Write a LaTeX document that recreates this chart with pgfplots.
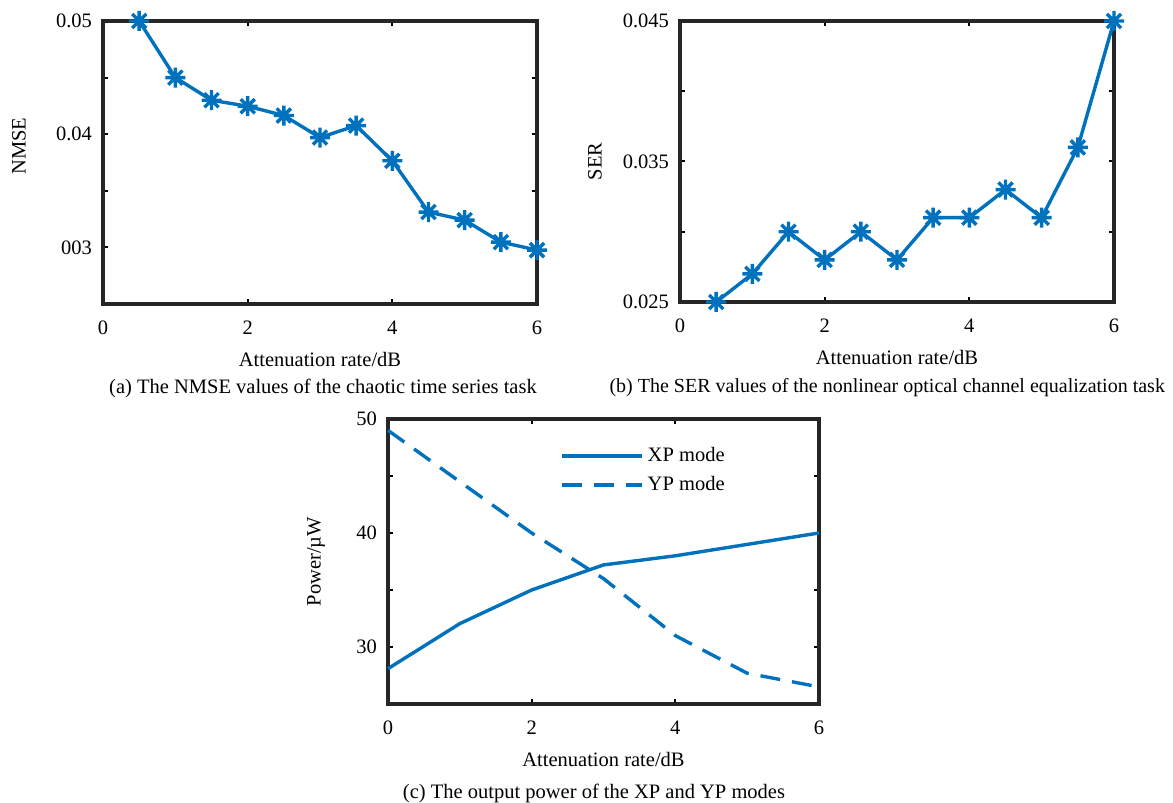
\documentclass[border=0pt]{standalone}
\usepackage{fontspec}
\setmainfont{Liberation Serif}
\usepackage{pgfplots}
\pgfplotsset{compat=1.18}
\definecolor{mblue}{RGB}{0,114,189}

% MATLAB-style 8-arm asterisk
\pgfdeclareplotmark{mstar}{%
  \pgfpathmoveto{\pgfqpoint{-\pgfplotmarksize}{0pt}}\pgfpathlineto{\pgfqpoint{\pgfplotmarksize}{0pt}}%
  \pgfpathmoveto{\pgfqpoint{0pt}{-\pgfplotmarksize}}\pgfpathlineto{\pgfqpoint{0pt}{\pgfplotmarksize}}%
  \pgfpathmoveto{\pgfqpoint{-.707\pgfplotmarksize}{-.707\pgfplotmarksize}}\pgfpathlineto{\pgfqpoint{.707\pgfplotmarksize}{.707\pgfplotmarksize}}%
  \pgfpathmoveto{\pgfqpoint{-.707\pgfplotmarksize}{.707\pgfplotmarksize}}\pgfpathlineto{\pgfqpoint{.707\pgfplotmarksize}{-.707\pgfplotmarksize}}%
  \pgfusepathqstroke}

\newcommand{\fs}{\fontsize{10.25}{12}\selectfont}

\pgfplotsset{panel/.style={
  scale only axis, anchor=south west, clip=false,
  axis line style={line width=1.8pt, black!85},
  tick style={black, line width=1pt}, major tick length=2.5pt, tick align=inside,
  xmin=0, xmax=6, xtick={0,2,4,6}, xticklabels={0,2,4,6},
  scaled y ticks=false,
  font=\fs,
  xticklabel style={yshift=-5pt},
  yticklabel style={xshift=-2pt},
  xlabel={Attenuation rate/dB},
  every axis x label/.style={at={(axis description cs:0.5,0)}, anchor=center, yshift=-27.5pt, font=\fs},
}}

\begin{document}
\begin{tikzpicture}
\useasboundingbox (0,0) rectangle (586.5pt,401.5pt);

% (a) NMSE
\begin{axis}[panel, at={(51.5pt,249.5pt)}, width=217pt, height=141.5pt,
  ymin=0.025, ymax=0.05, ytick={0.025,0.03,0.035,0.04,0.045,0.05}, yticklabels={,003,,0.04,,0.05},
  ylabel={NMSE}, every axis y label/.style={at={(axis description cs:-0.1935,0.558)}, rotate=90, anchor=center, font=\fs}]
\addplot[mblue, line width=1.7pt, mark=mstar, mark size=5pt, mark options={solid}] coordinates {
(0.5,0.0500) (1.0,0.0450) (1.5,0.0430) (2.0,0.04247) (2.5,0.04165) (3.0,0.0397)
(3.5,0.04076) (4.0,0.03765) (4.5,0.03312) (5.0,0.03241) (5.5,0.03047) (6.0,0.02976)};
\end{axis}

% (b) SER
\begin{axis}[panel, at={(340pt,250.5pt)}, width=217pt, height=140.5pt,
  ymin=0.025, ymax=0.045, ytick={0.025,0.03,0.035,0.04,0.045}, yticklabels={0.025,,0.035,,0.045},
  ylabel={SER}, every axis y label/.style={at={(axis description cs:-0.1959,0.5)}, rotate=90, anchor=center, font=\fs}]
\addplot[mblue, line width=1.7pt, mark=mstar, mark size=5pt, mark options={solid}] coordinates {
(0.5,0.025) (1.0,0.027) (1.5,0.030) (2.0,0.028) (2.5,0.030) (3.0,0.028)
(3.5,0.031) (4.0,0.031) (4.5,0.033) (5.0,0.031) (5.5,0.036) (6.0,0.045)};
\end{axis}

% (c) output power
\begin{axis}[panel, at={(194pt,49.5pt)}, width=215.5pt, height=142.5pt,
  ymin=25, ymax=50, ytick={25,30,35,40,45,50}, yticklabels={,30,,40,,50},
  ylabel={Power/µW}, every axis y label/.style={at={(axis description cs:-0.167,0.5)}, rotate=90, anchor=center, font=\fs},
  legend style={draw=none, fill=none, at={(0.385,0.93)}, anchor=north west, font=\fs, row sep=2pt},
  legend cell align=left,
  legend image code/.code={\draw[#1] (0pt,0pt) -- (40pt,0pt);}]
\addplot[mblue, line width=1.7pt, no marks] coordinates {(0,28.1) (1,32.05) (2,35.0) (3,37.2) (4,38.0) (5,39.0) (6,40.0)};
\addlegendentry{XP mode}
\addplot[mblue, line width=1.7pt, no marks, dash pattern=on 10pt off 6pt] coordinates {(0,49.0) (1,44.5) (2,40.0) (3,36.0) (4,31.0) (5,27.7) (6,26.5)};
\addlegendentry{YP mode}
\end{axis}

\node[font=\fs] at (161.5pt,207.5pt) {(a) The NMSE values of the chaotic time series task};
\node[font=\fontsize{10}{12}\selectfont, anchor=east] at (586pt,207.5pt) {(b) The SER values of the nonlinear optical channel equalization task};
\node[font=\fs] at (297pt,5pt) {(c) The output power of the XP and YP modes};
\end{tikzpicture}
\end{document}
